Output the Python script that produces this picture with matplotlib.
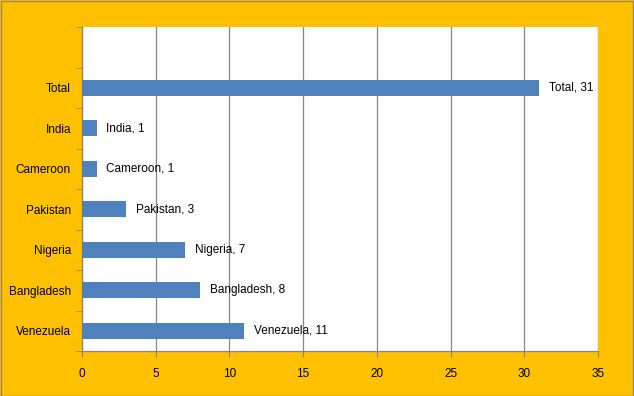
import matplotlib.pyplot as plt
import numpy as np

countries = ['Venezuela', 'Bangladesh', 'Nigeria', 'Pakistan', 'Cameroon', 'India', 'Total']
counts = [11, 8, 7, 3, 1, 1, 31]
xticks = [0, 5, 10, 15, 20, 25, 30, 35]

plt.rcParams['font.family'] = ['Liberation Sans', 'DejaVu Sans']

fig = plt.figure(figsize=(6.34, 3.96), dpi=100, facecolor='#FFC000')
ax = fig.add_axes([82 / 634, 1 - 351 / 396, (598 - 82) / 634, (351 - 27) / 396])
ax.set_facecolor('white')

y = np.arange(len(countries))
ax.barh(y, counts, height=0.4, color='#4F81BD', zorder=3)
for yi, c, v in zip(y, countries, counts):
    ax.text(v + 0.65, yi, f'{c}, {v}', va='center', ha='left', fontsize=8.5, color='black', zorder=4)

ax.set_xlim(0, 35)
ax.set_ylim(-0.5, len(countries) + 0.5)
ax.set_xticks(xticks)
ax.set_yticks(y)
ax.set_yticklabels(countries)
ax.set_yticks(np.arange(-0.5, len(countries) + 0.6, 1), minor=True)
ax.tick_params(axis='y', which='major', length=0, pad=8, labelsize=8.5)
ax.tick_params(axis='y', which='minor', length=4, color='#868686', direction='out')
ax.tick_params(axis='x', length=4, color='#868686', labelsize=8.5, pad=8)
ax.grid(axis='x', color='#868686', linewidth=0.9, zorder=0)
for s in ['top', 'right']:
    ax.spines[s].set_visible(False)
for s in ['left', 'bottom']:
    ax.spines[s].set_color('#868686')
    ax.spines[s].set_linewidth(0.9)

# thin border round the chart area
fig.patches.append(plt.Rectangle((0.001, 0.0), 0.998, 0.997, transform=fig.transFigure,
                                 fill=False, edgecolor='#9a8a5a', linewidth=1))

fig.savefig('out.png', dpi=100, facecolor=fig.get_facecolor())
